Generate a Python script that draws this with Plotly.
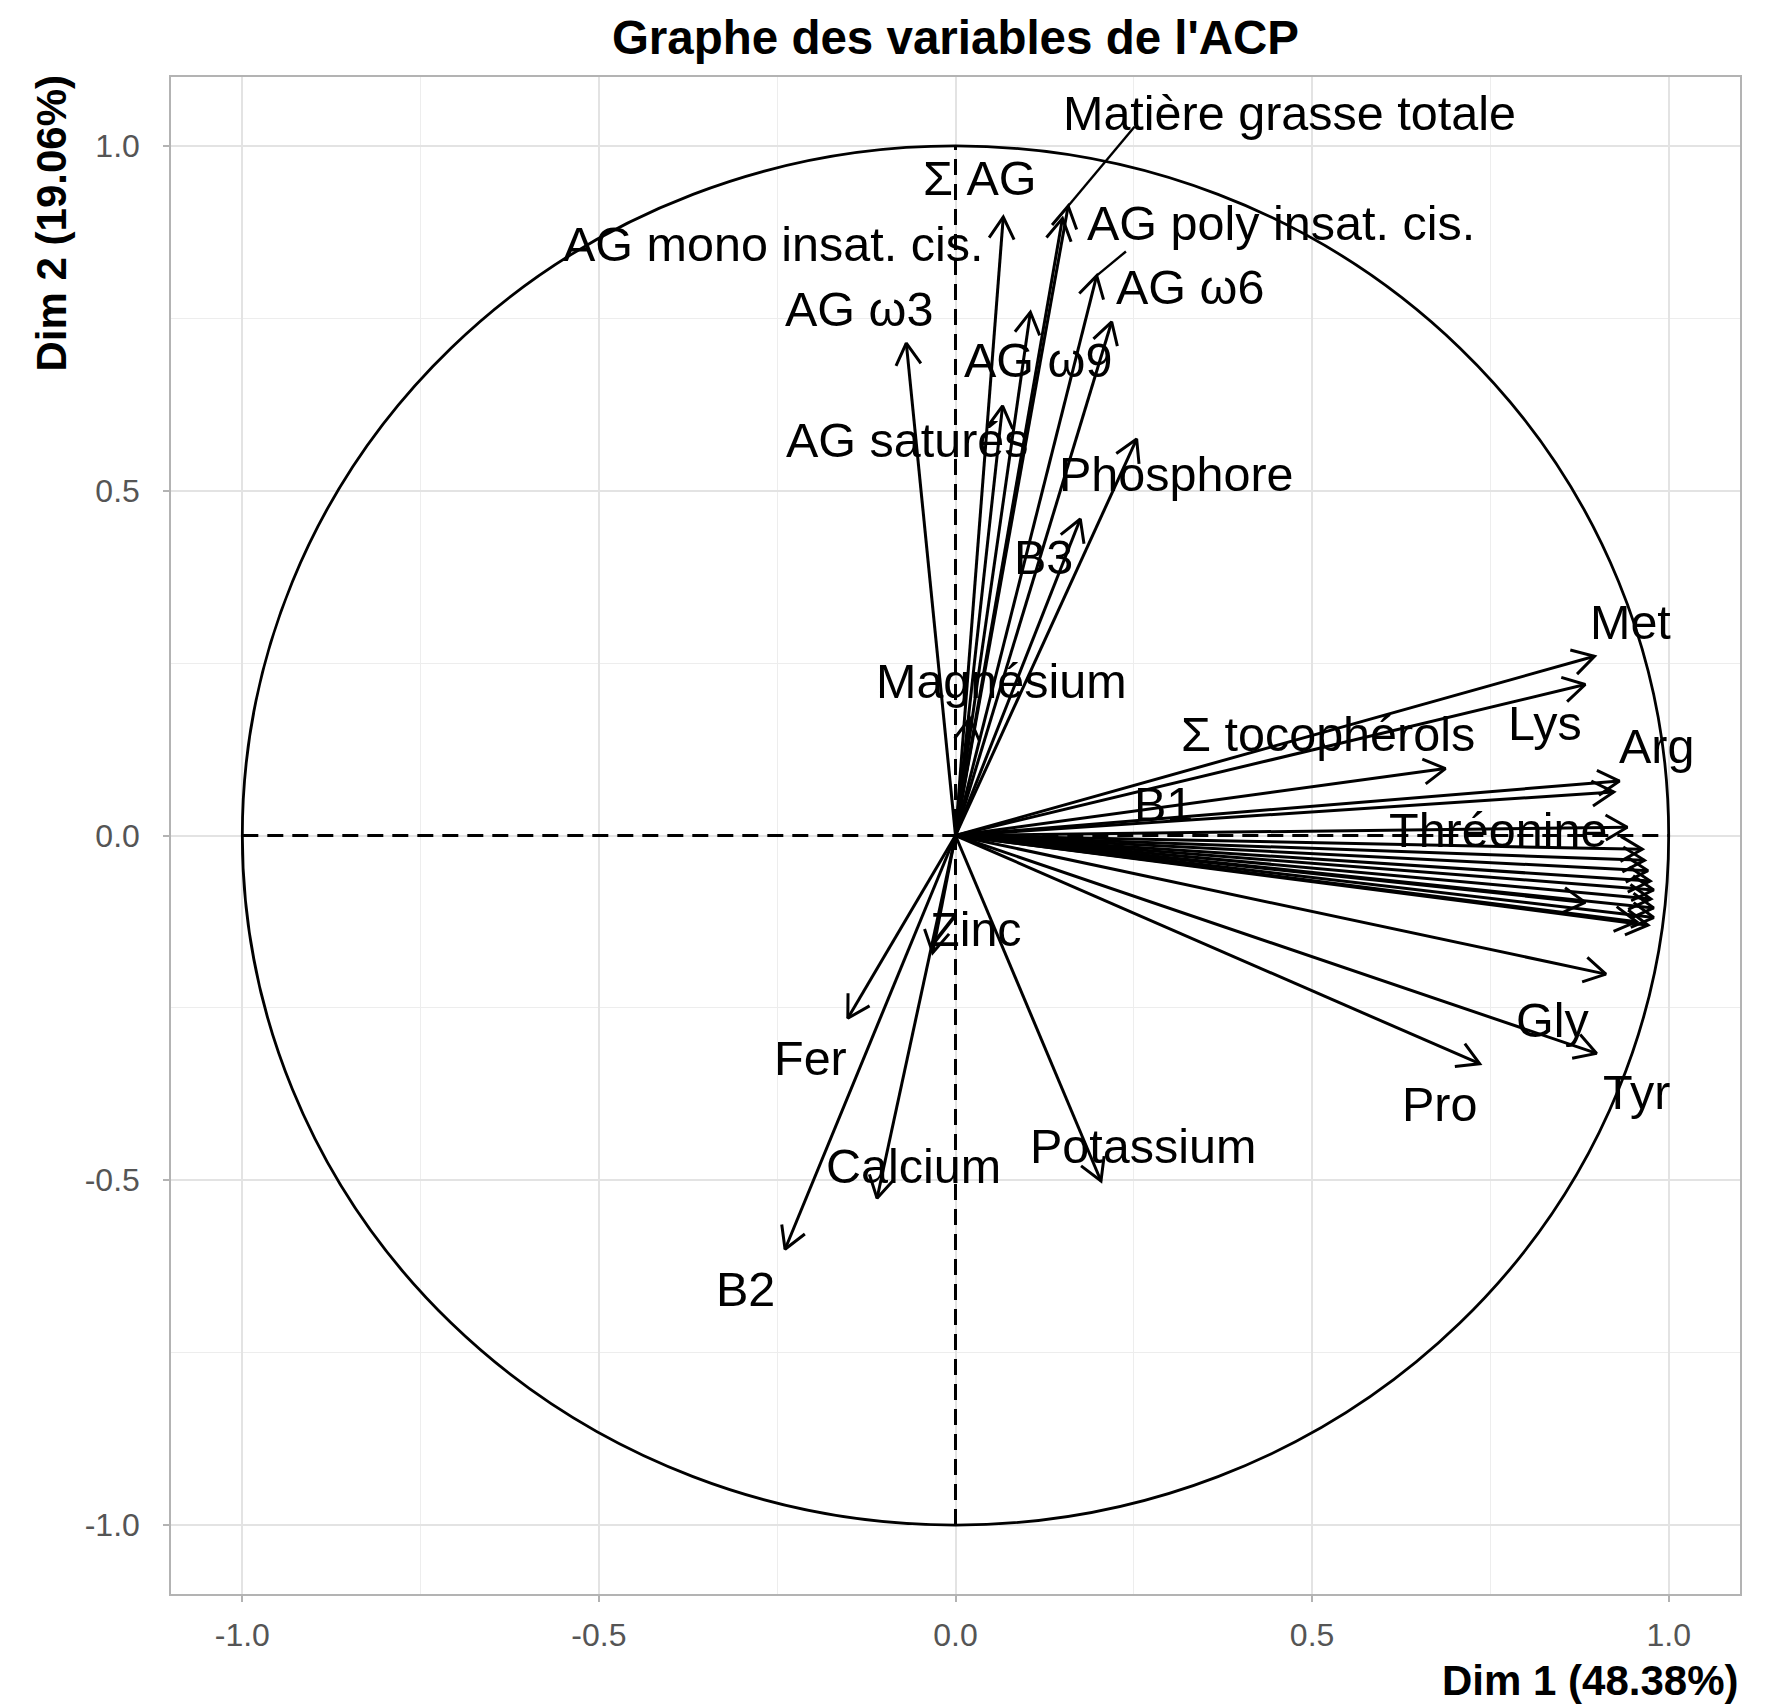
import numpy as np
import plotly.graph_objects as go

# ---------------- data ----------------
title_text = "Graphe des variables de l'ACP"
x_title = "Dim 1 (48.38%)"
y_title = "Dim 2 (19.06%)"

variables = [
    "Matière grasse totale", "Σ AG", "AG mono insat. cis.", "AG poly insat. cis.",
    "AG ω6", "AG ω3", "AG ω9", "AG saturés", "Phosphore", "B3", "Magnésium",
    "Met", "Lys", "Σ tocophérols", "Arg", "B1", "Thréonine",
    "", "", "", "", "", "", "", "", "", "", "",
    "Gly", "Tyr", "Pro",
    "Zinc", "Fer", "Calcium", "B2", "Potassium",
]
dim1 = [
    0.158, 0.150, 0.067, 0.198,
    0.219, -0.069, 0.105, 0.066, 0.254, 0.175, 0.020,
    0.896, 0.883, 0.687, 0.931, 0.923, 0.942,
    0.963, 0.966, 0.971, 0.974, 0.979, 0.975, 0.979, 0.979, 0.971, 0.955, 0.883,
    0.912, 0.899, 0.735,
    -0.032, -0.151, -0.110, -0.239, 0.204,
]
dim2 = [
    0.913, 0.895, 0.897, 0.812,
    0.745, 0.714, 0.759, 0.623, 0.575, 0.459, 0.170,
    0.260, 0.219, 0.097, 0.079, 0.063, 0.012,
    -0.020, -0.036, -0.051, -0.066, -0.079, -0.092, -0.105, -0.119, -0.130, -0.125, -0.097,
    -0.201, -0.316, -0.331,
    -0.170, -0.265, -0.526, -0.600, -0.501,
]
label_x = [
    0.469, 0.035, -0.255, 0.457,
    0.329, -0.135, 0.116, -0.068, 0.310, 0.124, 0.065,
    0.947, 0.827, 0.522, 0.983, 0.291, 0.761,
    None, None, None, None, None, None, None, None, None, None, None,
    0.838, 0.955, 0.679,
    0.029, -0.204, -0.059, -0.294, 0.263,
]
label_y = [
    1.048, 0.954, 0.858, 0.888,
    0.796, 0.763, 0.689, 0.573, 0.524, 0.404, 0.224,
    0.310, 0.163, 0.147, 0.130, 0.046, 0.008,
    None, None, None, None, None, None, None, None, None, None, None,
    -0.267, -0.372, -0.389,
    -0.135, -0.323, -0.479, -0.657, -0.451,
]
# label-side end of the repel leader segments (only where one is visible)
lead_x = {"Matière grasse totale": 0.251, "AG poly insat. cis.": 0.239}
lead_y = {"Matière grasse totale": 1.028, "AG poly insat. cis.": 0.847}

tick_vals = [-1.0, -0.5, 0.0, 0.5, 1.0]
tick_text = ["-1.0", "-0.5", "0.0", "0.5", "1.0"]

# ---------------- layout geometry ----------------
OFF = 8  # default page body margin
W, H = 1783 - OFF, 1704 - OFF
ML, MR, MT, MB = 171 - OFF, 43, 77 - OFF, 110
XR = [-1.1, 1.1]
YR = [-1.1, 1.1]
PW, PH = W - ML - MR, H - MT - MB
sx = PW / (XR[1] - XR[0])   # px per unit
sy = PH / (YR[1] - YR[0])

FONT = "Liberation Sans, Arial, sans-serif"
LW = 3.0
head_len = 25  # px
head_ang = np.deg2rad(30)

shaft_x, shaft_y, head_x, head_y = [], [], [], []
for x, y in zip(dim1, dim2):
    shaft_x += [0, x, None]
    shaft_y += [0, y, None]
    px, py = x * sx, y * sy
    n = np.hypot(px, py)
    ux, uy = px / n, py / n
    pts = []
    for s in (1, -1):
        c, si = np.cos(s * head_ang), np.sin(s * head_ang)
        rx, ry = ux * c - uy * si, ux * si + uy * c
        pts.append((x - head_len * rx / sx, y - head_len * ry / sy))
    head_x += [pts[0][0], x, pts[1][0], None]
    head_y += [pts[0][1], y, pts[1][1], None]

# leaders
ld_x, ld_y = [], []
for name, x, y in zip(variables, dim1, dim2):
    if name in lead_x:
        ld_x += [x, lead_x[name], None]
        ld_y += [y, lead_y[name], None]

fig = go.Figure()
fig.add_trace(go.Scatter(x=shaft_x, y=shaft_y, mode="lines",
                         line=dict(color="black", width=LW), hoverinfo="skip", showlegend=False))
fig.add_trace(go.Scatter(x=head_x, y=head_y, mode="lines",
                         line=dict(color="black", width=LW), hoverinfo="skip", showlegend=False))
fig.add_trace(go.Scatter(x=ld_x, y=ld_y, mode="lines",
                         line=dict(color="black", width=2.4), hoverinfo="skip", showlegend=False))

# unit circle and dashed axes (above grid, below arrows)
fig.add_shape(type="circle", xref="x", yref="y", x0=-1, x1=1, y0=-1, y1=1,
              line=dict(color="black", width=2.8), layer="between")
fig.add_shape(type="line", xref="x", yref="y", x0=-1, x1=1, y0=0, y1=0,
              line=dict(color="black", width=3, dash="16px,9px"), layer="between")
fig.add_shape(type="line", xref="x", yref="y", x0=0, x1=0, y0=-1, y1=1,
              line=dict(color="black", width=3, dash="16px,9px"), layer="between")

annotations = []
for name, lx, ly in zip(variables, label_x, label_y):
    if name and lx is not None:
        annotations.append(dict(x=lx, y=ly, xref="x", yref="y", text=name, showarrow=False,
                                xanchor="center", yanchor="middle",
                                font=dict(family=FONT, size=48.5, color="black")))
annotations.append(dict(x=1, y=-86 / PH, xref="paper", yref="paper",
                        text=x_title, showarrow=False, xanchor="right", yanchor="middle",
                        font=dict(family=FONT, size=42, color="black", weight="bold")))
annotations.append(dict(x=(51 - OFF - ML) / PW, y=(1594 - 223.5) / PH,
                        xref="paper", yref="paper", text=y_title, showarrow=False,
                        textangle=-90, xanchor="center", yanchor="middle",
                        font=dict(family=FONT, size=42, color="black", weight="bold")))

axis_common = dict(
    tickvals=tick_vals, ticktext=tick_text,
    showgrid=True, gridcolor="#E3E3E3", gridwidth=1.6,
    minor=dict(dtick=0.25, tick0=0, showgrid=True, gridcolor="#EDEDED", gridwidth=1, ticks=""),
    zeroline=False, showline=True, linecolor="#B3B3B3", linewidth=1.5, mirror=True,
    ticks="outside", ticklen=6, tickcolor="#B3B3B3", tickwidth=1.5,
    tickfont=dict(family=FONT, size=32, color="#555555"),
    automargin=False,
)

fig.update_layout(
    width=W, height=H,
    margin=dict(l=ML, r=MR, t=MT, b=MB),
    paper_bgcolor="white", plot_bgcolor="white",
    title=dict(text=title_text, x=(ML + PW / 2) / W, xanchor="center",
               y=1 - 29 / H, yanchor="middle", yref="container", xref="container",
               font=dict(family=FONT, size=47.5, color="black", weight="bold")),
    xaxis=dict(range=XR, ticklabelstandoff=6, **axis_common),
    yaxis=dict(range=YR, ticklabelstandoff=17, **axis_common),
    annotations=annotations,
    showlegend=False,
)

fig.write_html("out.html")
